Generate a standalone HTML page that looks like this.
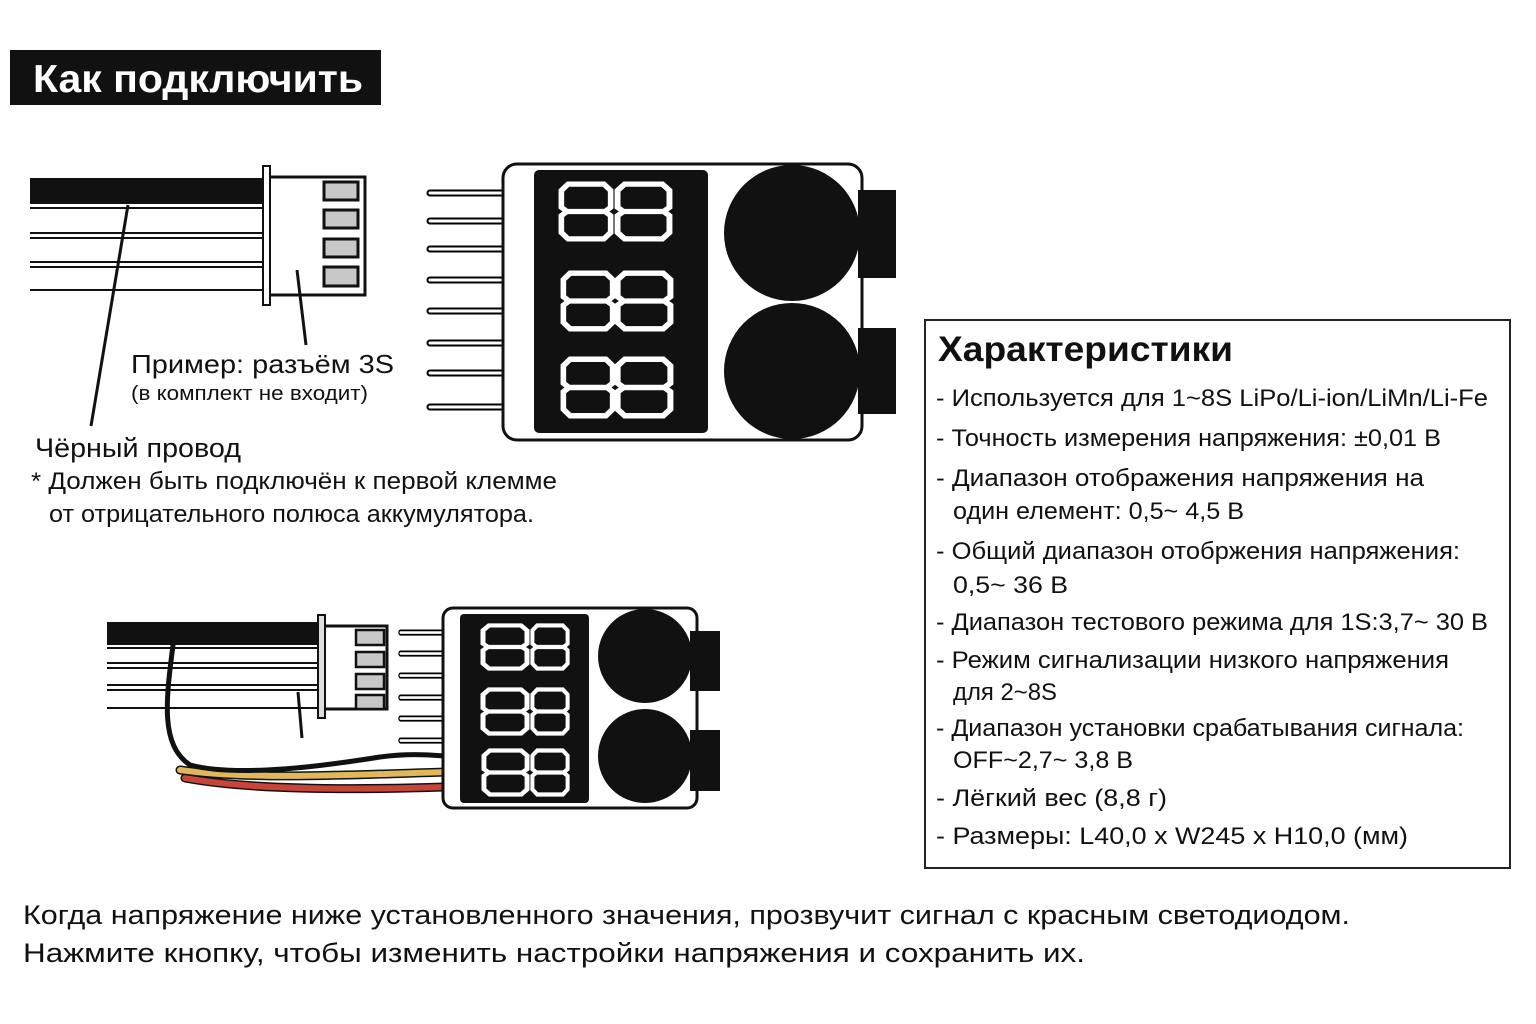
<!DOCTYPE html>
<html><head><meta charset="utf-8"><style>
html,body{margin:0;padding:0;background:#fff;}
svg{display:block;font-family:"Liberation Sans","DejaVu Sans",sans-serif;}
</style></head><body>
<svg width="1536" height="1024" viewBox="0 0 1536 1024" xmlns="http://www.w3.org/2000/svg">
<defs>
<symbol id="dg" viewBox="0 0 50 58" preserveAspectRatio="none">
<path d="M9,3 L41,3 L47,9 L47,25 L42,29 L8,29 L3,25 L3,9 Z M8,29 L42,29 L47,33 L47,49 L41,55 L9,55 L3,49 L3,33 Z" fill="none" stroke="#fff" stroke-width="5" stroke-linejoin="miter"/>
</symbol>
<symbol id="pin" viewBox="0 0 80 8" preserveAspectRatio="none">
<path d="M78,1.5 L4,1.5 A2.5,2.5 0 0 0 4,6.5 L78,6.5" fill="#fff" stroke="#000" stroke-width="2"/>
</symbol>
</defs>
<rect width="1536" height="1024" fill="#fff"/>

<!-- Title -->
<rect x="10" y="50" width="371" height="55" fill="#111"/>
<text x="33" y="92" font-size="39" font-weight="bold" fill="#fff" textLength="330" lengthAdjust="spacingAndGlyphs">Как подключить</text>

<!-- Top left connector -->
<rect x="30" y="178" width="233" height="26" fill="#111"/>
<g fill="#fff" stroke="#111" stroke-width="2">
<rect x="20" y="208" width="243" height="25"/>
<rect x="20" y="238" width="243" height="24"/>
<rect x="20" y="267" width="243" height="23"/>
</g>
<rect x="0" y="205" width="30" height="90" fill="#fff"/>
<rect x="269" y="177" width="96" height="118" fill="#fff" stroke="#111" stroke-width="3"/>
<rect x="263" y="166" width="7" height="139" fill="#fff" stroke="#111" stroke-width="2"/>
<g fill="#c8c8c8" stroke="#111" stroke-width="3">
<rect x="324" y="182" width="34" height="18"/>
<rect x="324" y="210" width="34" height="18"/>
<rect x="324" y="239" width="34" height="18"/>
<rect x="324" y="267" width="34" height="19"/>
</g>
<line x1="128" y1="205" x2="91" y2="426" stroke="#111" stroke-width="3"/>
<line x1="297" y1="270" x2="306" y2="345" stroke="#111" stroke-width="3"/>

<!-- Top device -->
<g>
<use href="#pin" x="426" y="189" width="80" height="8"/>
<use href="#pin" x="426" y="217" width="80" height="8"/>
<use href="#pin" x="426" y="245" width="80" height="8"/>
<use href="#pin" x="426" y="276" width="80" height="8"/>
<use href="#pin" x="426" y="307" width="80" height="8"/>
<use href="#pin" x="426" y="339" width="80" height="8"/>
<use href="#pin" x="426" y="369" width="80" height="8"/>
<use href="#pin" x="426" y="403" width="80" height="8"/>
</g>
<rect x="503" y="164" width="359" height="276" rx="14" fill="#fff" stroke="#111" stroke-width="3"/>
<rect x="534" y="170" width="174" height="263" rx="5" fill="#111"/>
<circle cx="792" cy="233" r="68" fill="#111"/>
<circle cx="792" cy="371" r="68" fill="#111"/>
<rect x="858" y="190" width="38" height="88" fill="#111"/>
<rect x="858" y="328" width="38" height="86" fill="#111"/>
<use href="#dg" x="558" y="181" width="56" height="61"/>
<use href="#dg" x="614" y="181" width="59" height="61"/>
<use href="#dg" x="560" y="270" width="56" height="62"/>
<use href="#dg" x="614" y="270" width="60" height="62"/>
<use href="#dg" x="560" y="356" width="56" height="63"/>
<use href="#dg" x="614" y="356" width="60" height="63"/>

<!-- labels top -->
<text x="131" y="373" font-size="26" fill="#111" textLength="263" lengthAdjust="spacingAndGlyphs">Пример: разъём 3S</text>
<text x="131" y="400" font-size="20" fill="#111" textLength="237" lengthAdjust="spacingAndGlyphs">(в комплект не входит)</text>
<text x="35" y="457" font-size="27" fill="#111" textLength="206" lengthAdjust="spacingAndGlyphs">Чёрный провод</text>
<text x="31" y="489" font-size="24" fill="#111" textLength="526" lengthAdjust="spacingAndGlyphs">* Должен быть подключён к первой клемме</text>
<text x="49" y="522" font-size="24" fill="#111" textLength="485" lengthAdjust="spacingAndGlyphs">от отрицательного полюса аккумулятора.</text>

<!-- Bottom connector -->
<rect x="107" y="622" width="212" height="23" fill="#111"/>
<g fill="#fff" stroke="#111" stroke-width="2">
<rect x="100" y="648" width="219" height="15"/>
<rect x="100" y="668" width="219" height="17"/>
<rect x="100" y="690" width="219" height="18"/>
</g>
<rect x="90" y="646" width="17" height="66" fill="#fff"/>
<rect x="324" y="626" width="63" height="83" fill="#fff" stroke="#111" stroke-width="3"/>
<rect x="318" y="615" width="7" height="103" fill="#ddd" stroke="#111" stroke-width="2"/>
<g fill="#c8c8c8" stroke="#111" stroke-width="2.5">
<rect x="356" y="630" width="28" height="15"/>
<rect x="356" y="652" width="28" height="15"/>
<rect x="356" y="674" width="28" height="15"/>
<rect x="356" y="695" width="28" height="14"/>
</g>
<line x1="298" y1="692" x2="302" y2="738" stroke="#111" stroke-width="3"/>
<g fill="none" stroke-linecap="round">
<path d="M185,778 C250,790 350,790 445,787" stroke="#111" stroke-width="9"/>
<path d="M185,778 C250,790 350,790 445,787" stroke="#c8453a" stroke-width="6"/>
<path d="M180,770 C250,780 350,775 445,772" stroke="#111" stroke-width="9"/>
<path d="M180,770 C250,780 350,775 445,772" stroke="#e0b85a" stroke-width="6"/>
<path d="M173,645 C166,700 160,745 190,765 C240,778 330,765 380,757 C410,753 430,755 445,756" stroke="#111" stroke-width="5"/>
</g>
<g>
<use href="#pin" x="398" y="629" width="48" height="7"/>
<use href="#pin" x="398" y="650" width="48" height="7"/>
<use href="#pin" x="398" y="672" width="48" height="7"/>
<use href="#pin" x="398" y="694" width="48" height="7"/>
<use href="#pin" x="398" y="715" width="48" height="7"/>
<use href="#pin" x="398" y="737" width="48" height="7"/>
</g>
<rect x="443" y="608" width="254" height="200" rx="10" fill="#fff" stroke="#111" stroke-width="3"/>
<rect x="460" y="614" width="129" height="189" rx="4" fill="#111"/>
<circle cx="645" cy="656" r="47" fill="#111"/>
<circle cx="645" cy="756" r="47" fill="#111"/>
<rect x="690" y="631" width="30" height="60" fill="#111"/>
<rect x="690" y="730" width="30" height="61" fill="#111"/>
<use href="#dg" x="480" y="623" width="50" height="48"/>
<use href="#dg" x="530" y="623" width="40" height="48"/>
<use href="#dg" x="480" y="687" width="50" height="49"/>
<use href="#dg" x="530" y="687" width="40" height="49"/>
<use href="#dg" x="481" y="748" width="49" height="49"/>
<use href="#dg" x="530" y="748" width="40" height="49"/>

<!-- Spec box -->
<rect x="925" y="320" width="585" height="548" fill="#fff" stroke="#222" stroke-width="2"/>
<text x="938" y="361" font-size="35" font-weight="bold" fill="#111" textLength="295" lengthAdjust="spacingAndGlyphs">Характеристики</text>
<g font-size="24" fill="#111">
<text x="936" y="406" textLength="552" lengthAdjust="spacingAndGlyphs">- Используется для 1~8S LiPo/Li-ion/LiMn/Li-Fe</text>
<text x="936" y="446" textLength="505" lengthAdjust="spacingAndGlyphs">- Точность измерения напряжения: ±0,01 В</text>
<text x="936" y="486" textLength="488" lengthAdjust="spacingAndGlyphs">- Диапазон отображения напряжения на</text>
<text x="953" y="519" textLength="291" lengthAdjust="spacingAndGlyphs">один елемент: 0,5~ 4,5 В</text>
<text x="936" y="559" textLength="524" lengthAdjust="spacingAndGlyphs">- Общий диапазон отобржения напряжения:</text>
<text x="953" y="593" textLength="115" lengthAdjust="spacingAndGlyphs">0,5~ 36 В</text>
<text x="936" y="630" textLength="552" lengthAdjust="spacingAndGlyphs">- Диапазон тестового режима для 1S:3,7~ 30 В</text>
<text x="936" y="668" textLength="513" lengthAdjust="spacingAndGlyphs">- Режим сигнализации низкого напряжения</text>
<text x="953" y="700" textLength="104" lengthAdjust="spacingAndGlyphs">для 2~8S</text>
<text x="936" y="736" textLength="528" lengthAdjust="spacingAndGlyphs">- Диапазон установки срабатывания сигнала:</text>
<text x="953" y="768" textLength="180" lengthAdjust="spacingAndGlyphs">OFF~2,7~ 3,8 В</text>
<text x="936" y="806" textLength="231" lengthAdjust="spacingAndGlyphs">- Лёгкий вес (8,8 г)</text>
<text x="936" y="844" textLength="472" lengthAdjust="spacingAndGlyphs">- Размеры:  L40,0 x W245 x H10,0 (мм)</text>
</g>

<!-- bottom text -->
<text x="23" y="924" font-size="27" fill="#111" textLength="1327" lengthAdjust="spacingAndGlyphs">Когда напряжение ниже установленного значения, прозвучит сигнал с красным светодиодом.</text>
<text x="23" y="962" font-size="27" fill="#111" textLength="1062" lengthAdjust="spacingAndGlyphs">Нажмите кнопку, чтобы изменить настройки напряжения и сохранить их.</text>
</svg>
</body></html>
